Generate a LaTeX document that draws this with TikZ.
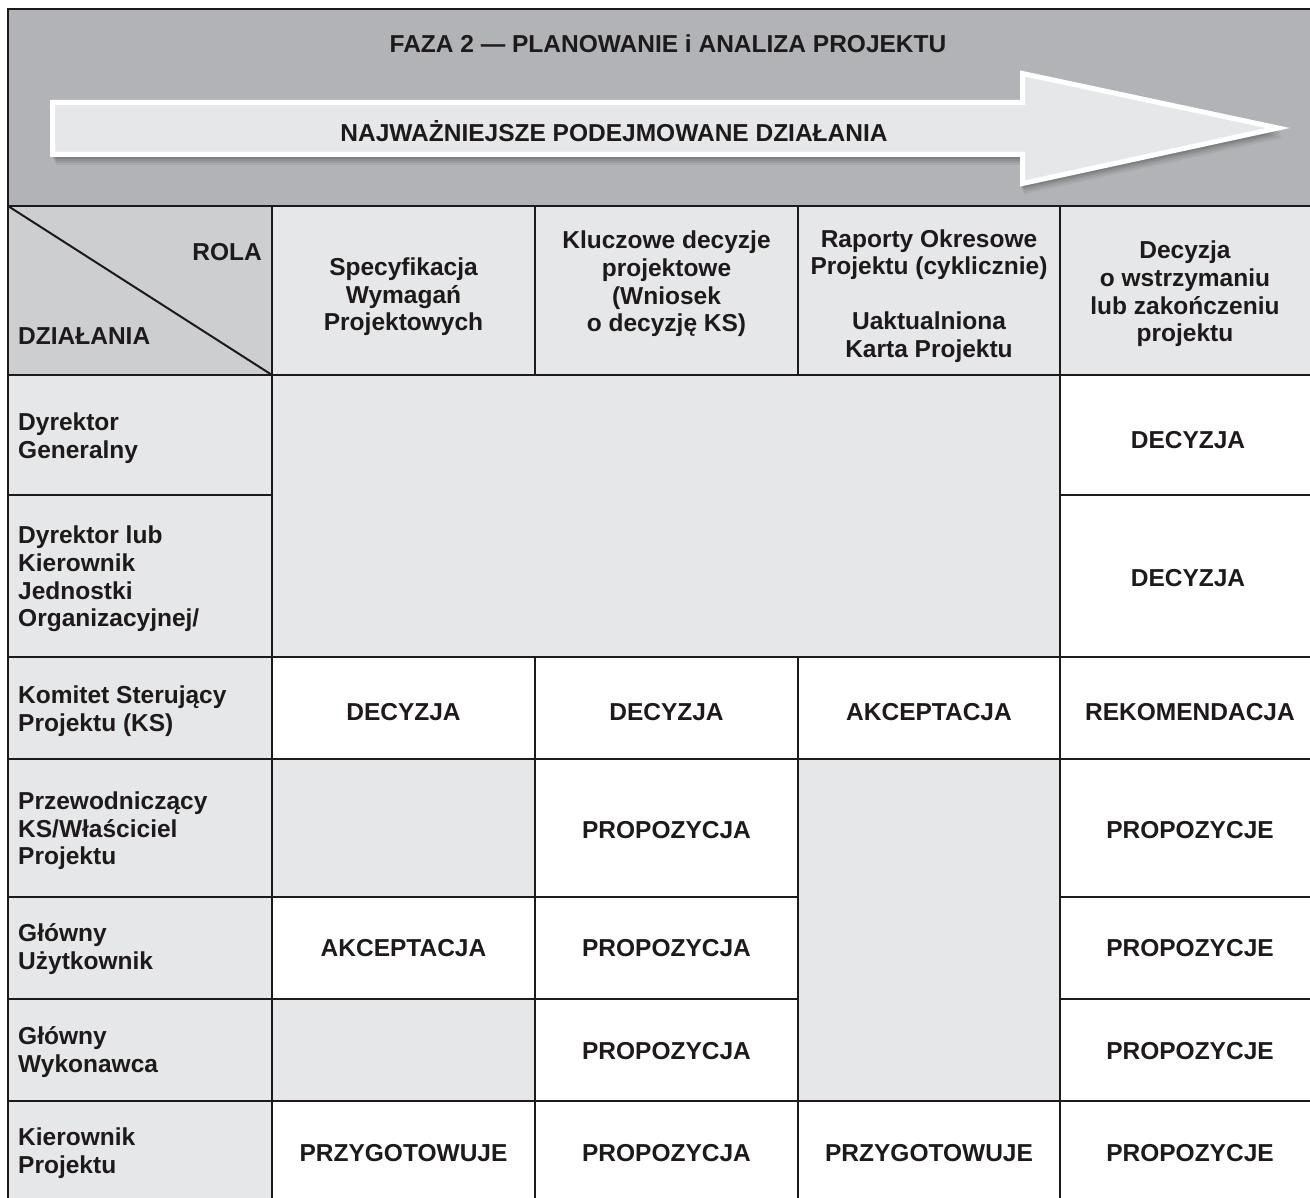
\documentclass[tikz,border=0pt]{standalone}
\usepackage{fontspec}
\setmainfont{Liberation Sans}
\definecolor{ink}{HTML}{1E1A1B}
\definecolor{hdr}{HTML}{B1B3B6}
\definecolor{cellg}{HTML}{E6E7E8}
\definecolor{corner}{HTML}{CDCED0}
\newcommand{\tfont}{\fontsize{24.5}{27.6}\selectfont\bfseries}
\begin{document}
\begin{tikzpicture}[x=1pt,y=-1pt,
  grid/.style={draw=ink, line width=2.8pt},
  lbl/.style={anchor=west, align=left, font=\tfont, text=ink, inner sep=0pt},
  ctr/.style={align=center, font=\tfont, text=ink, inner sep=0pt},
  arrowshape/.style={line join=miter}]
\useasboundingbox (0,0) rectangle (1310,1198);
\clip (0,0) rectangle (1310,1198);
\fill[white] (0,0) rectangle (1310,1198);
% fills
\fill[hdr] (8,9) rectangle (1320,206);
\fill[cellg] (272,206) rectangle (1320,375);
\fill[corner] (8,206) rectangle (272,375);
\fill[cellg] (8,375) rectangle (272,1215);
\fill[cellg] (272,375) rectangle (1060,657);
\fill[cellg] (272,759) rectangle (535,897);
\fill[cellg] (272,999) rectangle (535,1101);
\fill[cellg] (798,759) rectangle (1060,1101);
% arrow shadow (soft)
\foreach \d/\o in {10/0.05,8/0.07,6/0.09,4/0.11}{
  \fill[black,opacity=\o] (52+\d*0.4,102+\d) -- (1020+\d*0.4,102+\d) -- (1020+\d*0.4,73+\d) -- (1279+\d*0.4,128+\d) -- (1020+\d*0.4,184+\d) -- (1020+\d*0.4,155+\d) -- (52+\d*0.4,155+\d) -- cycle;
}
% arrow
\draw[arrowshape, fill=cellg, draw=white, line width=5pt] (52.5,102.5) -- (1022.5,102.5) -- (1022.5,73.5) -- (1278,128) -- (1022.5,183.5) -- (1022.5,154.5) -- (52.5,154.5) -- cycle;
% grid lines
\draw[grid] (8,9) -- (1320,9);
\draw[grid] (8,7.6) -- (8,1215);
\draw[grid] (8,206) -- (1320,206);
\draw[grid] (8,375) -- (1320,375);
\draw[grid] (8,495) -- (272,495);
\draw[grid] (1060,495) -- (1320,495);
\draw[grid] (8,657) -- (1320,657);
\draw[grid] (8,759) -- (1320,759);
\draw[grid] (8,897) -- (798,897);
\draw[grid] (1060,897) -- (1320,897);
\draw[grid] (8,999) -- (798,999);
\draw[grid] (1060,999) -- (1320,999);
\draw[grid] (8,1101) -- (1320,1101);
\draw[grid] (272,206) -- (272,1215);
\draw[grid] (535,206) -- (535,375);
\draw[grid] (535,657) -- (535,1215);
\draw[grid] (798,206) -- (798,375);
\draw[grid] (798,657) -- (798,1215);
\draw[grid] (1060,206) -- (1060,1215);
\draw[draw=ink, line width=2pt] (8,206) -- (272,375);
% header texts
\node[ctr] (title) at (668,44) {FAZA 2 — PLANOWANIE i ANALIZA PROJEKTU};
\node[ctr] (actions) at (614,131) {NAJWAŻNIEJSZE PODEJMOWANE DZIAŁANIA};
\node[ctr, anchor=east] (rola) at (262,252) {ROLA};
\node[lbl] (dzial) at (18,336) {DZIAŁANIA};
\node[ctr] (h1) at (403.5,297) {Specyfikacja\\Wymagań\\Projektowych};
\node[ctr] (h2) at (666.5,284) {Kluczowe decyzje\\projektowe\\(Wniosek\\o decyzję KS)};
\node[ctr] (h3) at (929,296) {Raporty Okresowe\\Projektu (cyklicznie)\\[27.6pt]Uaktualniona\\Karta Projektu};
\node[ctr] (h4) at (1185,294) {Decyzja\\o wstrzymaniu\\lub zakończeniu\\projektu};
% row labels
\node[lbl] (l1) at (18,438) {Dyrektor\\Generalny};
\node[lbl] (l2) at (18,579) {Dyrektor lub\\Kierownik\\Jednostki\\Organizacyjnej/};
\node[lbl] (l3) at (18,711) {Komitet Sterujący\\Projektu (KS)};
\node[lbl] (l4) at (18,831) {Przewodniczący\\KS/Właściciel\\Projektu};
\node[lbl] (l5) at (18,949) {Główny\\Użytkownik};
\node[lbl] (l6) at (18,1052) {Główny\\Wykonawca};
\node[lbl] (l7) at (18,1153) {Kierownik\\Projektu};
% cells
\node[ctr] (c14) at (1188,440) {DECYZJA};
\node[ctr] (c24) at (1188,578) {DECYZJA};
\node[ctr] (c31) at (403.5,712) {DECYZJA};
\node[ctr] (c32) at (666.5,712) {DECYZJA};
\node[ctr] (c33) at (929,712) {AKCEPTACJA};
\node[ctr] (c34) at (1190,712) {REKOMENDACJA};
\node[ctr] (c42) at (666.5,830) {PROPOZYCJA};
\node[ctr] (c44) at (1190,830) {PROPOZYCJE};
\node[ctr] (c51) at (403.5,948) {AKCEPTACJA};
\node[ctr] (c52) at (666.5,948) {PROPOZYCJA};
\node[ctr] (c54) at (1190,948) {PROPOZYCJE};
\node[ctr] (c62) at (666.5,1051) {PROPOZYCJA};
\node[ctr] (c64) at (1190,1051) {PROPOZYCJE};
\node[ctr] (c71) at (403.5,1153) {PRZYGOTOWUJE};
\node[ctr] (c72) at (666.5,1153) {PROPOZYCJA};
\node[ctr] (c73) at (929,1153) {PRZYGOTOWUJE};
\node[ctr] (c74) at (1190,1153) {PROPOZYCJE};
\end{tikzpicture}
\end{document}
